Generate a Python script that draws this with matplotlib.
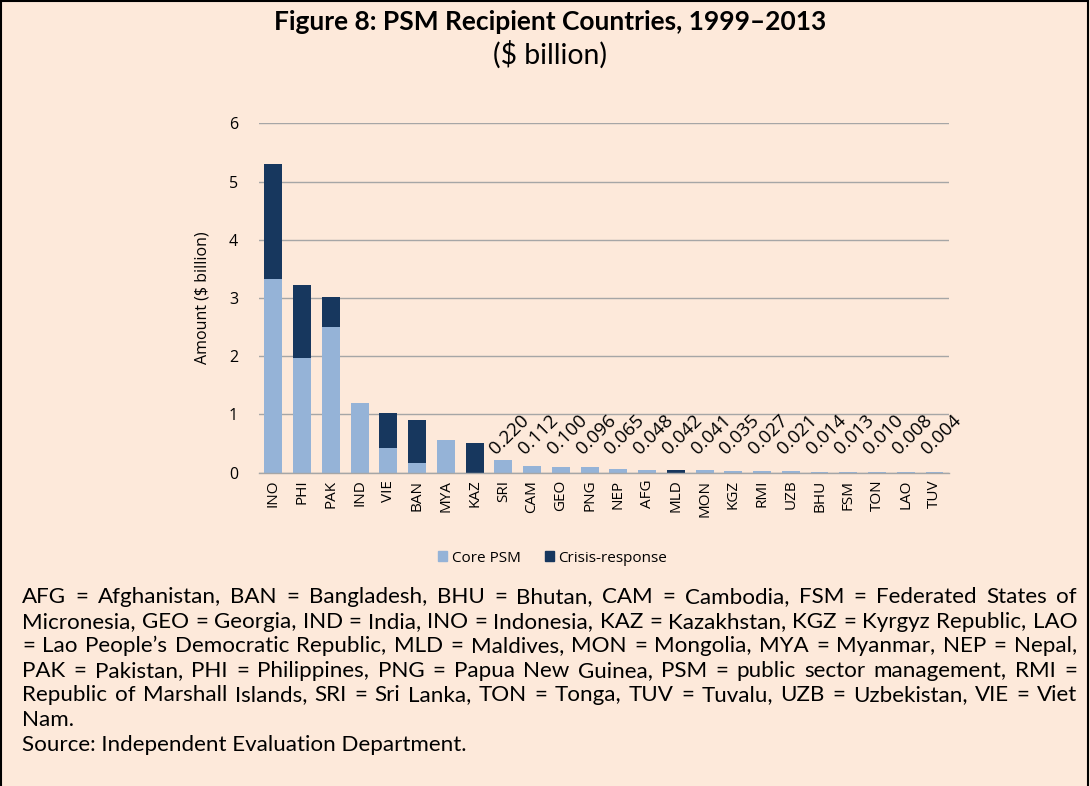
import matplotlib
matplotlib.use("Agg")
import matplotlib.pyplot as plt
from matplotlib.patches import Rectangle, Patch
from matplotlib import font_manager
import numpy as np

countries = ["INO", "PHI", "PAK", "IND", "VIE", "BAN", "MYA", "KAZ", "SRI", "CAM", "GEO",
             "PNG", "NEP", "AFG", "MLD", "MON", "KGZ", "RMI", "UZB", "BHU", "FSM", "TON",
             "LAO", "TUV"]
core_psm = [3.32, 1.975, 2.51, 1.20, 0.43, 0.17, 0.567, 0.0, 0.220, 0.112, 0.100,
            0.096, 0.065, 0.048, 0.0, 0.041, 0.035, 0.027, 0.021, 0.014, 0.013, 0.010,
            0.008, 0.004]
crisis_response = [1.99, 1.245, 0.50, 0.0, 0.59, 0.74, 0.0, 0.505, 0.0, 0.0, 0.0,
                   0.0, 0.0, 0.0, 0.042, 0.0, 0.0, 0.0, 0.0, 0.0, 0.0, 0.0,
                   0.0, 0.0]
label_start = 8  # data labels shown from SRI onward

BG = "#FDE9DA"
CORE = "#95B3D7"
CRISIS = "#17375E"
FONT = "Open Sans"
names = {f.name for f in font_manager.fontManager.ttflist}
NARROW = "Liberation Sans Narrow" if "Liberation Sans Narrow" in names else "Lato"

plt.rcParams["font.family"] = [FONT, "DejaVu Sans"]

W, H = 1090, 786
fig = plt.figure(figsize=(10.9, 7.86), dpi=100, facecolor=BG)
fig.patches.append(Rectangle((0.0005, -0.01), 0.9975, 1.0085, transform=fig.transFigure,
                             fill=False, edgecolor="black", linewidth=1.5, zorder=10))

ax = fig.add_axes([0.2376, 0.3986, 0.633, 0.4445])
ax.set_facecolor(BG)
x = np.arange(len(countries))
core = np.array(core_psm)
crisis = np.array(crisis_response)
ax.bar(x, core, width=0.62, color=CORE, zorder=3, label="Core PSM")
ax.bar(x, crisis, bottom=core, width=0.62, color=CRISIS, zorder=3, label="Crisis-response")

total = core + crisis
for i in range(label_start, len(countries)):
    ax.annotate(f"{total[i]:.3f}", xy=(x[i], 0), xytext=(-3, 11), textcoords="offset points",
                rotation=45, rotation_mode="anchor", ha="left", va="bottom",
                fontsize=13.5, color="black")

ax.set_xlim(-0.5, len(countries) - 0.5)
ax.set_ylim(0, 6)
ax.set_yticks(range(0, 7))
ax.yaxis.grid(True, color="#A6A6A6", linewidth=1.0, zorder=0)
ax.set_axisbelow(True)
for s in ["top", "right", "left"]:
    ax.spines[s].set_visible(False)
ax.spines["bottom"].set_color("#A6A6A6")
ax.spines["bottom"].set_linewidth(1.0)
ax.spines["bottom"].set_zorder(4)
ax.tick_params(axis="both", length=0)
ax.tick_params(axis="x", labelsize=11, pad=5)
ax.tick_params(axis="y", labelsize=11.5, pad=15)
ax.set_xticks(x)
ax.set_xticklabels(countries, rotation=90)
ax.set_ylabel("Amount ($ billion)", fontsize=11.5, labelpad=13)

fig.legend(handles=[Patch(color=CORE, label="Core PSM"), Patch(color=CRISIS, label="Crisis-response")],
           loc="center", bbox_to_anchor=(0.507, 0.29), ncol=2, frameon=False, fontsize=11,
           handlelength=0.6, handleheight=0.6, handletextpad=0.3, columnspacing=1.6)

fig.canvas.draw()
renderer = fig.canvas.get_renderer()


def fit_text(xf, yf, s, target_px, base_size, **kw):
    t = fig.text(xf, yf, s, fontsize=base_size, **kw)
    w = t.get_window_extent(renderer).width
    t.set_fontsize(base_size * target_px / w)
    return t


fit_text(0.505, 0.972, "Figure 8: PSM Recipient Countries, 1999–2013", 556, 16,
         ha="center", va="center", fontweight="bold", family=NARROW)
fit_text(0.505, 0.930, "($ billion)", 114, 16, ha="center", va="center", family=NARROW)

lines = [
    "AFG = Afghanistan, BAN = Bangladesh, BHU = Bhutan, CAM = Cambodia, FSM = Federated States of",
    "Micronesia, GEO = Georgia, IND = India, INO = Indonesia, KAZ = Kazakhstan, KGZ = Kyrgyz Republic, LAO",
    "= Lao People’s Democratic Republic, MLD = Maldives, MON = Mongolia, MYA = Myanmar, NEP = Nepal,",
    "PAK = Pakistan, PHI = Philippines, PNG = Papua New Guinea, PSM = public sector management, RMI =",
    "Republic of Marshall Islands, SRI = Sri Lanka, TON = Tonga, TUV = Tuvalu, UZB = Uzbekistan, VIE = Viet",
    "Nam.",
    "Source: Independent Evaluation Department.",
]
justify = [True, True, True, True, True, False, False]
left_px, right_px = 22, 1077
ys = [597, 622, 646, 671, 695, 720, 745]

# font size so the longest line fits the text block
probe = fig.text(0, 0, lines[1], fontsize=12, family=NARROW)
pw = probe.get_window_extent(renderer).width
probe.remove()
FOOT_SIZE = 12 * (right_px - left_px) / pw * 0.99

for line, just, ypx in zip(lines, justify, ys):
    yf = 1 - ypx / H
    if not just:
        fig.text(left_px / W, yf, line, ha="left", va="center", fontsize=FOOT_SIZE, family=NARROW)
        continue
    words = line.split(" ")
    texts = [fig.text(0, yf, w, ha="left", va="center", fontsize=FOOT_SIZE, family=NARROW) for w in words]
    widths = [t.get_window_extent(renderer).width for t in texts]
    gap = (right_px - left_px - sum(widths)) / (len(words) - 1)
    xpos = left_px
    for t, wd in zip(texts, widths):
        t.set_x(xpos / W)
        xpos += wd + gap

fig.savefig("out.png", dpi=100, facecolor=BG)
